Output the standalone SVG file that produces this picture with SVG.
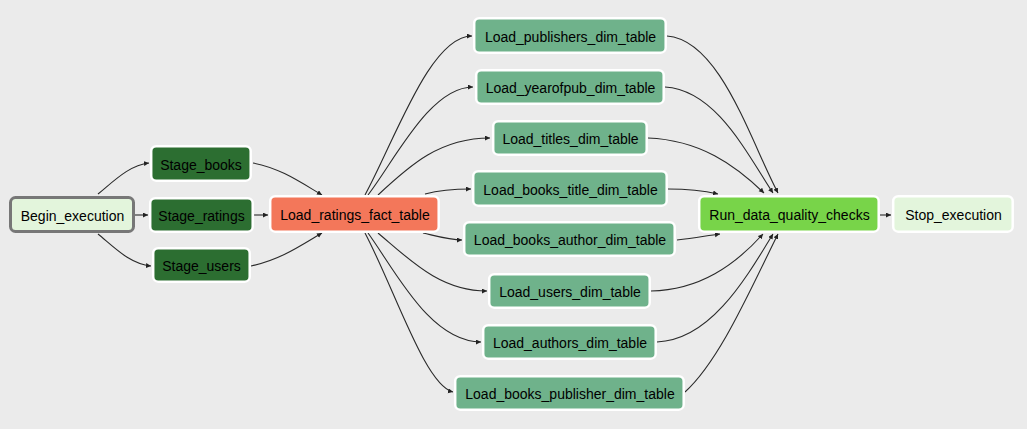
<svg xmlns="http://www.w3.org/2000/svg" width="1027" height="429" viewBox="0 0 1027 429">
<defs>
<marker id="arr" markerUnits="userSpaceOnUse" markerWidth="7" markerHeight="7" refX="5" refY="2.5" orient="auto">
<path d="M0,0 L5,2.5 L0,5 z" fill="#222"/>
</marker>
<style>
.n rect{stroke:#fff;stroke-width:2.5}
.n text{font-family:"Liberation Sans",Arial,sans-serif;font-size:14px;fill:#000;text-anchor:middle}
.stage rect{fill:#2c6e31}
.dim rect{fill:#6fb28b}
.e path{fill:none;stroke:#2a2a2a;stroke-width:1.1;marker-end:url(#arr)}
</style>
</defs>
<rect width="1027" height="429" fill="#ebebeb"/>
<g class="e" id="connectors">
<path d="M98,194 C115,180 130,165 149,163"/>
<path d="M98,234 C115,248 130,264 151,266"/>
<path d="M135,215 L148,215"/>
<path d="M253,163 C280,168 300,182 322,195"/>
<path d="M254,215 L268,215"/>
<path d="M251,266 C280,260 300,246 322,233"/>
<path d="M365,195 C395,140 430,36 472,36"/>
<path d="M368,195 C395,160 430,87 473,87"/>
<path d="M378,195 C410,165 440,138 490,138"/>
<path d="M425,194 C440,190 455,189 471,189"/>
<path d="M423,233 C440,237 450,240 462,240"/>
<path d="M378,233 C410,260 440,291 487,291"/>
<path d="M368,233 C395,270 430,342 481,342"/>
<path d="M365,233 C395,290 425,385 453,392"/>
<path d="M667,36 C720,40 750,140 778,193"/>
<path d="M665,87 C715,90 745,150 773,193"/>
<path d="M648,138 C700,140 735,165 764,193"/>
<path d="M668,189 C690,189 705,191 718,194"/>
<path d="M677,240 C695,238 705,236 720,234"/>
<path d="M651,291 C700,290 735,265 763,234"/>
<path d="M657,342 C710,340 745,280 773,234"/>
<path d="M685,392 C720,360 750,290 778,234"/>
<path d="M880,215 L891,215"/>
</g>
<g class="n" id="Begin_execution"><rect x="10.5" y="197.5" width="123" height="34" rx="5" fill="#e3f5dc" style="stroke:#777;stroke-width:3"/><text x="72.5" y="220.5">Begin_execution</text></g>
<g class="n stage" id="Stage_books"><rect x="151.2" y="146.2" width="99.5" height="34.5" rx="5"/><text x="201" y="169.5">Stage_books</text></g>
<g class="n stage" id="Stage_ratings"><rect x="150.2" y="198.2" width="102.5" height="33.5" rx="5"/><text x="201.5" y="221">Stage_ratings</text></g>
<g class="n stage" id="Stage_users"><rect x="153.2" y="248.2" width="96.5" height="33.5" rx="5"/><text x="201.5" y="271">Stage_users</text></g>
<g class="n" id="Load_ratings_fact_table"><rect x="270.2" y="196.2" width="168.5" height="35.5" rx="5" fill="#f3775a"/><text x="355" y="220">Load_ratings_fact_table</text></g>
<g class="n dim" id="Load_publishers_dim_table"><rect x="474.2" y="18.2" width="191.5" height="34.5" rx="5"/><text x="570.5" y="41.5">Load_publishers_dim_table</text></g>
<g class="n dim" id="Load_yearofpub_dim_table"><rect x="476.2" y="70.2" width="187.5" height="33.5" rx="5"/><text x="570.5" y="93">Load_yearofpub_dim_table</text></g>
<g class="n dim" id="Load_titles_dim_table"><rect x="493.2" y="121.2" width="153.5" height="33.5" rx="5"/><text x="570.5" y="144">Load_titles_dim_table</text></g>
<g class="n dim" id="Load_books_title_dim_table"><rect x="473.2" y="171.2" width="193.5" height="34.5" rx="5"/><text x="570.5" y="194.5">Load_books_title_dim_table</text></g>
<g class="n dim" id="Load_books_author_dim_table"><rect x="464.2" y="222.2" width="210.5" height="33.5" rx="5"/><text x="570" y="245">Load_books_author_dim_table</text></g>
<g class="n dim" id="Load_users_dim_table"><rect x="489.2" y="274.2" width="160.5" height="33.5" rx="5"/><text x="570" y="297">Load_users_dim_table</text></g>
<g class="n dim" id="Load_authors_dim_table"><rect x="483.2" y="325.2" width="172.5" height="33.5" rx="5"/><text x="570" y="348">Load_authors_dim_table</text></g>
<g class="n dim" id="Load_books_publisher_dim_table"><rect x="455.2" y="376.2" width="228.5" height="33.5" rx="5"/><text x="570" y="399">Load_books_publisher_dim_table</text></g>
<g class="n" id="Run_data_quality_checks"><rect x="699.2" y="196.2" width="179.5" height="35.5" rx="5" fill="#78d449"/><text x="789.5" y="220">Run_data_quality_checks</text></g>
<g class="n" id="Stop_execution"><rect x="893.2" y="196.2" width="119.5" height="35.5" rx="5" fill="#e3f5dc"/><text x="953.5" y="220">Stop_execution</text></g>
</svg>
